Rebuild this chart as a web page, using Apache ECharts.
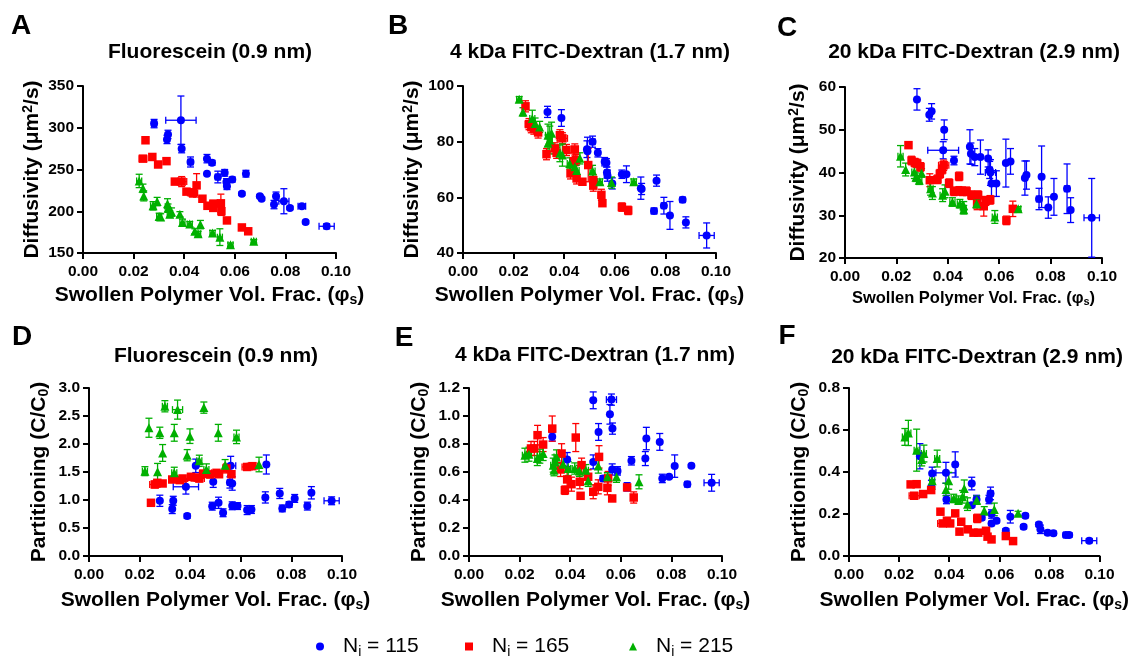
<!DOCTYPE html>
<html>
<head>
<meta charset="utf-8">
<script src="https://cdn.jsdelivr.net/npm/echarts@6/dist/echarts.min.js"></script>
<style>
html,body{margin:0;padding:0;background:#fff;}
#chart{width:1131px;height:660px;}
</style>
</head>
<body>
<div id="chart"></div>
<script>
// ---- DATA: each point is [phi_s, value, x error, y error] ----
const A115 = [[0.0281,305,0.001,5],[0.0332,286,0,5],[0.0336,292,0,5],[0.0387,309,0.006,29],[0.0390,275,0,5],[0.0425,259,0.001,6],[0.0490,263,0,5],[0.0490,245,0,0],[0.0510,258,0,3],[0.0533,241,0.001,7],[0.0560,246,0,4],[0.0567,235,0,4],[0.0569,230,0,4],[0.0590,238,0,3],[0.0628,221,0,2],[0.0644,245,0,4],[0.0699,218,0,2],[0.0706,215,0,2],[0.0755,208,0,5],[0.0763,218,0,5],[0.0794,212,0.002,15],[0.0818,204,0,2],[0.0865,206,0.0015,2],[0.0880,187,0,2],[0.0963,182,0.003,3]];
const A165 = [[0.0247,285,0,2],[0.0237,263,0.0015,3],[0.0274,265,0.001,3],[0.0297,256,0,3],[0.0330,260,0.001,3],[0.0363,235.5,0.001,3],[0.0390,235.5,0.002,6],[0.0409,223.5,0.001,3],[0.0433,222,0.002,5],[0.0449,231,0.001,14],[0.0472,215,0,3],[0.0492,206.5,0,4],[0.0515,209,0,4],[0.0515,204,0,4],[0.0545,209.5,0,11],[0.0547,200,0,5],[0.0569,189,0,3],[0.0628,180.6,0,2],[0.0653,176,0,2]];
const A215 = [[0.0222,236.3,0.001,8],[0.0237,227.5,0,5],[0.0240,218.4,0,6],[0.0277,206.5,0.001,5],[0.0293,211.6,0,5],[0.0301,193.7,0.001,4],[0.0307,193,0,4],[0.0334,209,0,6],[0.0336,203.7,0,5],[0.0343,196.5,0.001,4],[0.0350,199,0,5],[0.0383,196.5,0,3],[0.0393,186.6,0.001,4],[0.0422,184.6,0.001,3],[0.0442,176,0,3],[0.0455,173,0.001,3],[0.0464,184,0,5],[0.0512,174,0.001,3],[0.0541,169,0.001,10],[0.0583,160,0.001,2],[0.0675,164,0.001,2]];

const B115 = [[0.0334,90.7,0,2],[0.0389,88.5,0,3],[0.0490,77.3,0,3],[0.0492,76.6,0,5],[0.0512,80,0.001,2],[0.0533,76,0,1.5],[0.0560,72.8,0.001,1.5],[0.0567,72.4,0,1.5],[0.0569,68.9,0,2],[0.0571,67.8,0,2],[0.0590,65,0,2],[0.0628,68.3,0,1.5],[0.0646,68.3,0,3],[0.0703,63.3,0,4],[0.0706,63,0,2],[0.0765,66,0,2],[0.0755,55.1,0.001,1],[0.0794,57,0.001,3],[0.0818,53.5,0,5],[0.0868,59.1,0.001,0.7],[0.0881,51,0,2],[0.0963,46.3,0.003,4.5]];
const B165 = [[0.0247,92.7,0.001,2],[0.0261,86.3,0.0015,2],[0.0270,85.2,0.001,2],[0.0280,84.7,0,2],[0.0297,83.3,0.001,2],[0.0330,75.5,0,2],[0.0363,77.6,0.001,2],[0.0370,76,0,2],[0.0383,82.3,0.001,2],[0.0393,81.2,0.002,2],[0.0409,77,0.001,2],[0.0425,68.6,0.001,2],[0.0438,73,0,3],[0.0442,77.2,0,2],[0.0446,73.4,0,2],[0.0449,66.8,0,2],[0.0472,65.6,0,1],[0.0495,71.6,0,6],[0.0515,66.2,0,2],[0.0515,64.2,0,2],[0.0547,60.9,0,2],[0.0551,57.9,0,1],[0.0628,56.5,0.001,1.5],[0.0653,55.3,0.001,1.5]];
const B215 = [[0.0222,95.2,0.001,1],[0.0237,90.7,0,1.5],[0.0274,88.3,0.001,3],[0.0285,86.5,0,2],[0.0303,85.3,0,2],[0.0336,82.3,0.001,4],[0.0343,80.6,0.001,5],[0.0336,79.4,0,3],[0.0350,83,0,4],[0.0383,75.8,0.001,3],[0.0393,75.2,0,4],[0.0422,72.2,0.001,2],[0.0442,71,0,2],[0.0449,69.6,0.001,2],[0.0462,74,0,2],[0.0512,69.5,0.001,2],[0.0541,65.6,0.001,1],[0.0587,65.3,0,2],[0.0675,65.6,0.001,1]];

const C115 = [[0.0280,57.1,0,2.5],[0.0328,53.5,0,1.5],[0.0337,54.3,0,1.8],[0.0386,50,0,2.3],[0.0382,45.2,0.006,2],[0.0424,42.8,0,1],[0.0486,46,0,4],[0.0490,44.4,0,2.5],[0.0505,43.6,0,2],[0.0527,43.6,0,4],[0.0557,43.3,0,2],[0.0563,40.6,0.001,2],[0.0566,40,0.002,3],[0.0570,37.4,0,3],[0.0589,37.4,0,3],[0.0626,42.2,0,5.6],[0.0644,42.6,0,3],[0.0700,38.7,0,4],[0.0706,39.4,0,3.3],[0.0755,33.8,0.001,2.5],[0.0765,39,0,7.2],[0.0791,31.8,0,2.5],[0.0813,34.3,0,4.3],[0.0864,36.2,0.001,5.8],[0.0878,31.2,0,2.9],[0.0960,29.4,0.003,9.2]];
const C165 = [[0.0247,46.4,0,0.5],[0.0259,42.8,0.001,1],[0.0272,42.3,0,1],[0.0281,42.1,0,1],[0.0294,41.3,0.001,1],[0.0330,38.2,0.001,1.5],[0.0360,38.4,0,1],[0.0369,39.7,0.001,1],[0.0378,40.7,0.001,1],[0.0384,41.7,0.002,1.2],[0.0405,37.5,0,1],[0.0424,35.6,0.001,1],[0.0444,39.1,0.001,1],[0.0444,35.7,0,1],[0.0457,35.6,0.001,1],[0.0473,35.6,0.001,1],[0.0492,34.7,0,1],[0.0518,34.7,0.001,1],[0.0514,32.6,0,1.3],[0.0540,32.1,0,2.3],[0.0547,33.3,0,1],[0.0565,33.6,0.001,1],[0.0628,28.8,0.001,1],[0.0653,31.5,0.001,1.8]];
const C215 = [[0.0216,43.8,0.001,2.5],[0.0236,40.7,0,1.5],[0.0270,40.1,0.001,1.5],[0.0276,38.9,0,1],[0.0289,38.2,0.001,1],[0.0298,39.9,0,1],[0.0333,36.2,0.001,1.5],[0.0340,35.2,0,1.5],[0.0380,34.7,0.001,1.5],[0.0389,35.6,0,1.5],[0.0418,33.1,0.001,1],[0.0447,32.7,0.001,1],[0.0462,32.2,0,1],[0.0462,31.3,0.001,1],[0.0512,32.7,0.001,1],[0.0583,29.6,0.001,1.5],[0.0674,31.5,0.001,0.5]];

const D115 = [[0.0280,0.986,0,0.1],[0.0329,0.838,0,0.08],[0.0333,0.986,0,0.08],[0.0383,1.236,0.005,0.13],[0.0388,0.713,0,0.04],[0.0422,1.61,0,0.12],[0.0487,0.89,0,0.07],[0.0491,1.325,0,0.1],[0.0512,0.95,0,0.1],[0.0530,0.772,0,0.07],[0.0557,1.313,0.001,0.1],[0.0560,1.61,0.002,0.17],[0.0566,1.295,0,0.12],[0.0566,0.897,0,0.07],[0.0587,0.891,0,0.06],[0.0625,0.82,0,0.08],[0.0642,0.83,0,0.07],[0.0697,1.046,0,0.1],[0.0701,1.634,0,0.17],[0.0754,1.117,0,0.09],[0.0764,0.85,0,0.06],[0.0791,0.92,0,0.05],[0.0813,1.028,0,0.07],[0.0863,0.891,0,0.07],[0.0879,1.129,0,0.11],[0.0959,0.986,0.003,0.07]];
const D165 = [[0.0245,0.95,0,0.02],[0.0260,1.277,0.002,0.06],[0.0270,1.307,0.001,0.05],[0.0291,1.295,0.001,0.05],[0.0329,1.366,0.001,0.05],[0.0359,1.355,0.001,0.05],[0.0370,1.384,0.002,0.05],[0.0403,1.414,0.001,0.05],[0.0418,1.402,0.001,0.05],[0.0436,1.384,0.002,0.06],[0.0451,1.47,0.001,0.06],[0.0478,1.456,0.002,0.06],[0.0504,1.485,0.002,0.05],[0.0514,1.46,0.001,0.05],[0.0543,1.563,0.001,0.08],[0.0563,1.46,0.001,0.05],[0.0625,1.59,0.002,0.05],[0.0646,1.604,0.002,0.05]];
const D215 = [[0.0221,1.515,0.001,0.08],[0.0237,2.29,0,0.17],[0.0271,1.503,0,0.15],[0.0280,2.2,0,0.1],[0.0291,1.84,0,0.15],[0.0300,2.674,0.001,0.1],[0.0337,2.2,0,0.15],[0.0337,1.485,0.001,0.1],[0.0350,2.614,0.002,0.17],[0.0388,1.8,0,0.1],[0.0399,2.14,0,0.13],[0.0436,1.7,0.001,0.1],[0.0454,2.65,0,0.1],[0.0464,1.545,0.001,0.1],[0.0511,2.2,0,0.15],[0.0538,1.622,0,0.1],[0.0583,2.127,0.001,0.12],[0.0672,1.634,0,0.13]];

const E115 = [[0.0329,0.851,0,0.03],[0.0388,0.689,0,0.05],[0.0491,0.672,0,0.05],[0.0491,1.112,0,0.06],[0.0512,0.886,0,0.06],[0.0530,0.554,0,0.02],[0.0557,1.012,0,0.07],[0.0563,1.117,0.002,0.04],[0.0567,0.91,0,0.04],[0.0566,0.618,0,0.04],[0.0587,0.608,0.001,0.03],[0.0625,0.494,0,0.03],[0.0642,0.68,0,0.03],[0.0697,0.696,0,0.05],[0.0701,0.839,0,0.08],[0.0754,0.815,0,0.06],[0.0764,0.554,0,0.03],[0.0791,0.566,0,0.01],[0.0813,0.642,0,0.08],[0.0863,0.513,0.001,0.01],[0.0879,0.644,0,0.01],[0.0959,0.523,0.003,0.06]];
const E165 = [[0.0245,0.768,0.001,0.05],[0.0258,0.768,0.001,0.05],[0.0271,0.863,0,0.07],[0.0293,0.796,0,0.05],[0.0329,0.91,0,0.09],[0.0362,0.618,0,0.05],[0.0366,0.732,0,0.07],[0.0379,0.47,0,0.03],[0.0388,0.547,0,0.05],[0.0405,0.513,0,0.05],[0.0422,0.846,0,0.1],[0.0438,0.53,0,0.05],[0.0441,0.43,0,0.02],[0.0445,0.649,0,0.05],[0.0471,0.566,0,0.05],[0.0491,0.459,0.001,0.05],[0.0511,0.494,0,0.05],[0.0514,0.708,0,0.08],[0.0547,0.487,0,0.05],[0.0550,0.554,0,0.05],[0.0566,0.411,0,0.01],[0.0625,0.49,0,0.02],[0.0651,0.418,0.001,0.04]];
const E215 = [[0.0221,0.72,0.001,0.05],[0.0237,0.727,0.001,0.05],[0.0270,0.696,0.001,0.05],[0.0280,0.713,0.001,0.05],[0.0293,0.732,0,0.05],[0.0333,0.649,0.001,0.05],[0.0336,0.613,0,0.04],[0.0340,0.672,0.001,0.05],[0.0346,0.708,0.001,0.05],[0.0372,0.656,0,0.05],[0.0392,0.625,0.001,0.05],[0.0418,0.625,0.001,0.04],[0.0436,0.608,0,0.04],[0.0462,0.613,0.001,0.04],[0.0471,0.537,0,0.04],[0.0511,0.642,0,0.05],[0.0547,0.566,0.001,0.03],[0.0583,0.566,0,0.04],[0.0672,0.53,0,0.05]];

const F115 = [[0.0283,0.475,0,0.06],[0.0329,0.33,0,0.03],[0.0332,0.393,0,0.03],[0.0387,0.396,0.004,0.05],[0.0389,0.269,0,0.02],[0.0424,0.436,0,0.06],[0.0490,0.345,0,0.03],[0.0490,0.242,0,0.01],[0.0509,0.269,0.001,0.02],[0.0530,0.182,0,0.01],[0.0559,0.269,0,0.02],[0.0565,0.298,0.001,0.03],[0.0569,0.2,0,0.02],[0.0569,0.155,0,0.01],[0.0589,0.168,0,0.01],[0.0626,0.12,0,0.01],[0.0644,0.187,0,0.03],[0.0697,0.139,0,0.01],[0.0704,0.192,0,0.01],[0.0758,0.15,0,0.01],[0.0764,0.127,0,0.02],[0.0793,0.111,0,0.01],[0.0816,0.108,0,0.01],[0.0866,0.1,0.001,0.01],[0.0879,0.1,0,0.01],[0.0959,0.073,0.003,0.01]];
const F165 = [[0.0246,0.341,0,0.01],[0.0260,0.287,0.002,0.01],[0.0270,0.342,0,0.01],[0.0296,0.295,0,0.01],[0.0328,0.314,0,0.01],[0.0365,0.211,0.001,0.01],[0.0374,0.155,0.002,0.01],[0.0391,0.168,0,0.01],[0.0404,0.155,0,0.01],[0.0424,0.203,0,0.01],[0.0441,0.116,0,0.01],[0.0448,0.163,0,0.01],[0.0474,0.127,0,0.01],[0.0497,0.111,0,0.01],[0.0512,0.179,0.001,0.02],[0.0516,0.111,0,0.01],[0.0547,0.12,0,0.01],[0.0553,0.092,0,0.01],[0.0569,0.079,0,0.01],[0.0626,0.095,0,0.01],[0.0655,0.071,0,0.01]];
const F215 = [[0.0223,0.567,0.001,0.04],[0.0237,0.586,0.001,0.06],[0.0270,0.504,0.001,0.1],[0.0290,0.459,0,0.03],[0.0299,0.488,0.001,0.04],[0.0332,0.358,0.001,0.04],[0.0352,0.464,0.001,0.04],[0.0387,0.317,0,0.03],[0.0398,0.358,0,0.04],[0.0418,0.274,0.001,0.02],[0.0437,0.266,0.001,0.02],[0.0453,0.282,0,0.03],[0.0460,0.322,0,0.04],[0.0473,0.247,0,0.03],[0.0510,0.266,0.001,0.02],[0.0540,0.215,0,0.02],[0.0580,0.222,0,0.03],[0.0675,0.203,0,0.01]];

const panelLetters = ['A','B','C','D','E','F'];
const panelTitles = ['Fluorescein (0.9 nm)','4 kDa FITC-Dextran (1.7 nm)','20 kDa FITC-Dextran (2.9 nm)','Fluorescein (0.9 nm)','4 kDa FITC-Dextran (1.7 nm)','20 kDa FITC-Dextran (2.9 nm)'];
const seriesNames = ['N115','N165','N215'];
const legendValues = ['115','165','215'];
const yTicks = [[150,350,50],[40,100,20],[20,60,10],[0,3,0.5],[0,1.2,0.2],[0,0.8,0.2]];
const xTicks = [0,0.1,0.02];

// ---- LAYOUT / STYLE ----
const FONT = '"Liberation Sans", Arial, Helvetica, sans-serif';
const COLORS = ['#0000ff','#ff0000','#00b000'];
const SYMBOLS = ['circle','rect','triangle'];
const SYMSIZE = [8,8.5,9];
const panelData = [[A115,A165,A215],[B115,B165,B215],[C115,C165,C215],[D115,D165,D215],[E115,E165,E215],[F115,F165,F215]];
const grids = [
  {left:83, top:86, width:253, height:167},
  {left:463, top:86, width:253, height:167},
  {left:845, top:87, width:257, height:171},
  {left:89, top:388, width:253, height:168},
  {left:469, top:388, width:253, height:168},
  {left:849, top:388, width:253, height:168}
];
const yDec = [0,0,0,1,1,1];
const yNames = ['Diffusivity (μm{sup|2}/s)','Diffusivity (μm{sup|2}/s)','Diffusivity (μm{sup|2}/s)','Partitioning (C/C{sub|0})','Partitioning (C/C{sub|0})','Partitioning (C/C{sub|0})'];
const yNameGap = [39,39,35,38,38,38];
const xNameSize = [21,21,16.5,21,21,21];
const xNameGap = [31,31,31,33,33,33];
const letterPos = [[21,26],[398,26],[787,28],[22,337],[404,338],[787,336]];
const titlePos = [[210,52],[590,52],[974,52],[216,356],[595,355],[977,357]];

function richFor(size){
  return {
    sup:{fontSize:Math.round(size*0.65),fontWeight:'bold',fontFamily:FONT,color:'#000',padding:[0,0,Math.round(size*0.45),0]},
    sub:{fontSize:Math.round(size*0.65),fontWeight:'bold',fontFamily:FONT,color:'#000',padding:[Math.round(size*0.45),0,0,0]}
  };
}

const option = {animation:false, backgroundColor:'#fff', grid:[], xAxis:[], yAxis:[], series:[], graphic:[], legend:[]};

panelData.forEach((sets, i) => {
  option.grid.push(Object.assign({containLabel:false}, grids[i]));
  option.xAxis.push({
    type:'value', gridIndex:i, min:xTicks[0], max:xTicks[1], interval:xTicks[2],
    name:'Swollen Polymer Vol. Frac. (φ{sub|s})', nameLocation:'middle', nameGap:xNameGap[i],
    nameTextStyle:{fontSize:xNameSize[i], fontWeight:'bold', color:'#000', fontFamily:FONT, rich:richFor(xNameSize[i])},
    axisLine:{onZero:false, lineStyle:{color:'#000', width:2}},
    axisTick:{show:true, length:6, lineStyle:{color:'#000', width:2}},
    axisLabel:{fontSize:15.5, fontWeight:'bold', color:'#000', fontFamily:FONT, margin:11, formatter:v=>v.toFixed(2)},
    splitLine:{show:false}
  });
  option.yAxis.push({
    type:'value', gridIndex:i, min:yTicks[i][0], max:yTicks[i][1], interval:yTicks[i][2],
    name:yNames[i], nameLocation:'middle', nameGap:yNameGap[i], nameRotate:90,
    nameTextStyle:{fontSize:21, fontWeight:'bold', color:'#000', fontFamily:FONT, rich:richFor(21)},
    axisLine:{show:true, onZero:false, lineStyle:{color:'#000', width:2}},
    axisTick:{show:true, length:6, lineStyle:{color:'#000', width:2}},
    axisLabel:{fontSize:15.5, fontWeight:'bold', color:'#000', fontFamily:FONT, margin:9, formatter:v=>v.toFixed(yDec[i])},
    splitLine:{show:false}
  });
  sets.forEach((arr, k) => {
    option.series.push({
      type:'custom', xAxisIndex:i, yAxisIndex:i, z:2, silent:true,
      itemStyle:{color:COLORS[k]},
      encode:{x:0, y:1},
      data:arr,
      renderItem:function(params, api){
        const x = api.value(0), y = api.value(1), ex = api.value(2), ey = api.value(3);
        const children = [];
        const st = {stroke:COLORS[k], lineWidth:1.3};
        const cap = 3.5;
        if (ey > 0) {
          const p1 = api.coord([x, y - ey]), p2 = api.coord([x, y + ey]);
          children.push({type:'line', shape:{x1:p1[0], y1:p1[1], x2:p2[0], y2:p2[1]}, style:st});
          children.push({type:'line', shape:{x1:p1[0]-cap, y1:p1[1], x2:p1[0]+cap, y2:p1[1]}, style:st});
          children.push({type:'line', shape:{x1:p2[0]-cap, y1:p2[1], x2:p2[0]+cap, y2:p2[1]}, style:st});
        }
        if (ex > 0) {
          const p1 = api.coord([x - ex, y]), p2 = api.coord([x + ex, y]);
          children.push({type:'line', shape:{x1:p1[0], y1:p1[1], x2:p2[0], y2:p2[1]}, style:st});
          children.push({type:'line', shape:{x1:p1[0], y1:p1[1]-cap, x2:p1[0], y2:p1[1]+cap}, style:st});
          children.push({type:'line', shape:{x1:p2[0], y1:p2[1]-cap, x2:p2[0], y2:p2[1]+cap}, style:st});
        }
        return {type:'group', children:children};
      }
    });
    option.series.push({
      type:'scatter', name:seriesNames[k], xAxisIndex:i, yAxisIndex:i, z:3,
      symbol:SYMBOLS[k], symbolSize:SYMSIZE[k],
      itemStyle:{color:COLORS[k], opacity:1},
      data:arr.map(p => [p[0], p[1]])
    });
  });
  option.graphic.push({type:'text', x:letterPos[i][0], y:letterPos[i][1], z:10,
    style:{text:panelLetters[i], fontSize:28, fontWeight:'bold', fontFamily:FONT, fill:'#000', align:'center', verticalAlign:'middle', textAlign:'center', textVerticalAlign:'middle'}});
  option.graphic.push({type:'text', x:titlePos[i][0], y:titlePos[i][1], z:10,
    style:{text:panelTitles[i], fontSize:21, fontWeight:'bold', fontFamily:FONT, fill:'#000', align:'center', verticalAlign:'middle', textAlign:'center', textVerticalAlign:'middle'}});
});

const legendLeft = [316, 465, 629];
seriesNames.forEach((n, k) => {
  option.legend.push({
    data:[{name:n, icon:SYMBOLS[k]}], left:legendLeft[k], top:636, padding:0,
    itemWidth:8, itemHeight:8, selectedMode:false,
    formatter:() => 'N{sub|i} = ' + legendValues[k],
    textStyle:{fontSize:21, color:'#000', fontFamily:FONT, padding:[0,0,0,14],
      rich:{sub:{fontSize:14, color:'#000', fontFamily:FONT, padding:[12,0,0,0]}}}
  });
});

const chart = echarts.init(document.getElementById('chart'), null, {renderer:'canvas'});
chart.setOption(option);
</script>
</body>
</html>
